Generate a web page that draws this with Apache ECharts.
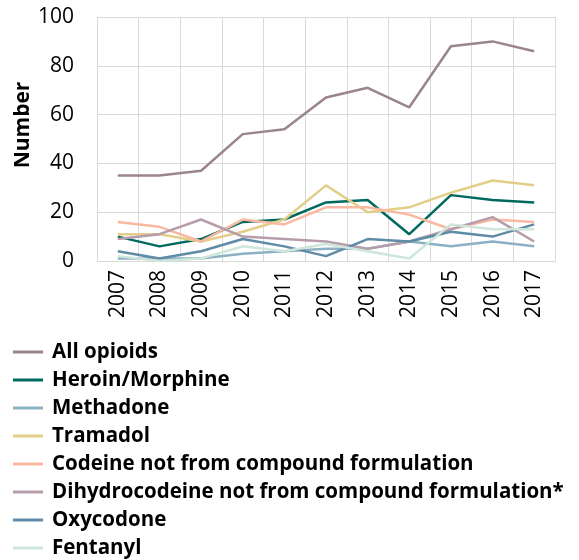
<!DOCTYPE html>
<html><head><meta charset="utf-8">
<script src="https://cdn.jsdelivr.net/npm/echarts@6/dist/echarts.min.js"></script>
<style>html,body{margin:0;padding:0;background:#fff}#c{width:579px;height:560px}</style>
</head><body><div id="c"></div>
<script>
const years = ['2007','2008','2009','2010','2011','2012','2013','2014','2015','2016','2017'];
const seriesNames = ['All opioids','Heroin/Morphine','Methadone','Tramadol','Codeine not from compound formulation','Dihydrocodeine not from compound formulation*','Oxycodone','Fentanyl'];
const allOpioids     = [35, 35, 37, 52, 54, 67, 71, 63, 88, 90, 86];
const heroinMorphine = [10, 6, 9, 16, 17, 24, 25, 11, 27, 25, 24];
const methadone      = [1, 1, 1, 3, 4, 5, 5, 8, 6, 8, 6];
const tramadol       = [11, 11, 8, 12, 17, 31, 20, 22, 28, 33, 31];
const codeine        = [16, 14, 8, 17, 15, 22, 22, 19, 13, 17, 16];
const dihydrocodeine = [9, 11, 17, 10, 9, 8, 5, 8, 13, 18, 8];
const oxycodone      = [4, 1, 4, 9, 6, 2, 9, 8, 12, 10, 15];
const fentanyl       = [2, 0, 1, 6, 4, 7, 4, 1, 15, 13, 13];
const yTicks = [0, 20, 40, 60, 80, 100];

const dataSets = [allOpioids, heroinMorphine, methadone, tramadol, codeine, dihydrocodeine, oxycodone, fentanyl];
const colors = ['#9a858b','#00695e','#8db0c5','#e3ce88','#f9b8a0','#b69dab','#5e8ba5','#cfe6db'];
const FONT = 'Open Sans';

const chart = echarts.init(document.getElementById('c'));
chart.setOption({
  animation: false,
  textStyle: {fontFamily: FONT},
  grid: {left: 97, right: 24, top: 17, bottom: 299},
  xAxis: {
    type: 'category', data: years, boundaryGap: true,
    axisLine: {lineStyle: {color: '#d9d9d9'}},
    axisTick: {show: false},
    splitLine: {show: true, lineStyle: {color: '#d9d9d9', width: 1}},
    axisLabel: {rotate: 90, color: '#000', fontSize: 21, fontFamily: FONT, margin: 9, interval: 0}
  },
  yAxis: {
    type: 'value', min: 0, max: 100, interval: 20,
    name: 'Number', nameLocation: 'middle', nameGap: 63, nameRotate: 90, nameMoveOverlap: false,
    nameTextStyle: {color: '#000', fontSize: 21, fontWeight: 'bold', fontFamily: FONT, padding: [0,0,0,28]},
    axisLine: {show: false}, axisTick: {show: false},
    splitLine: {lineStyle: {color: '#d9d9d9', width: 1}},
    axisLabel: {color: '#000', fontSize: 21, fontFamily: FONT, margin: 23,
      formatter: v => yTicks.includes(v) ? String(v) : ''}
  },
  legend: {
    orient: 'vertical', left: 13, top: 341, padding: 0,
    itemWidth: 30, itemHeight: 3, itemGap: 6, icon: 'rect',
    textStyle: {color: '#000', fontSize: 20.5, fontWeight: 'bold', fontFamily: FONT, lineHeight: 22, padding: [0,0,0,4]},
    data: seriesNames
  },
  series: seriesNames.map((n, i) => ({
    name: n, type: 'line', data: dataSets[i], showSymbol: false, symbol: 'none',
    lineStyle: {width: 2.5, color: colors[i]}, itemStyle: {color: colors[i]}
  }))
});
</script></body></html>
